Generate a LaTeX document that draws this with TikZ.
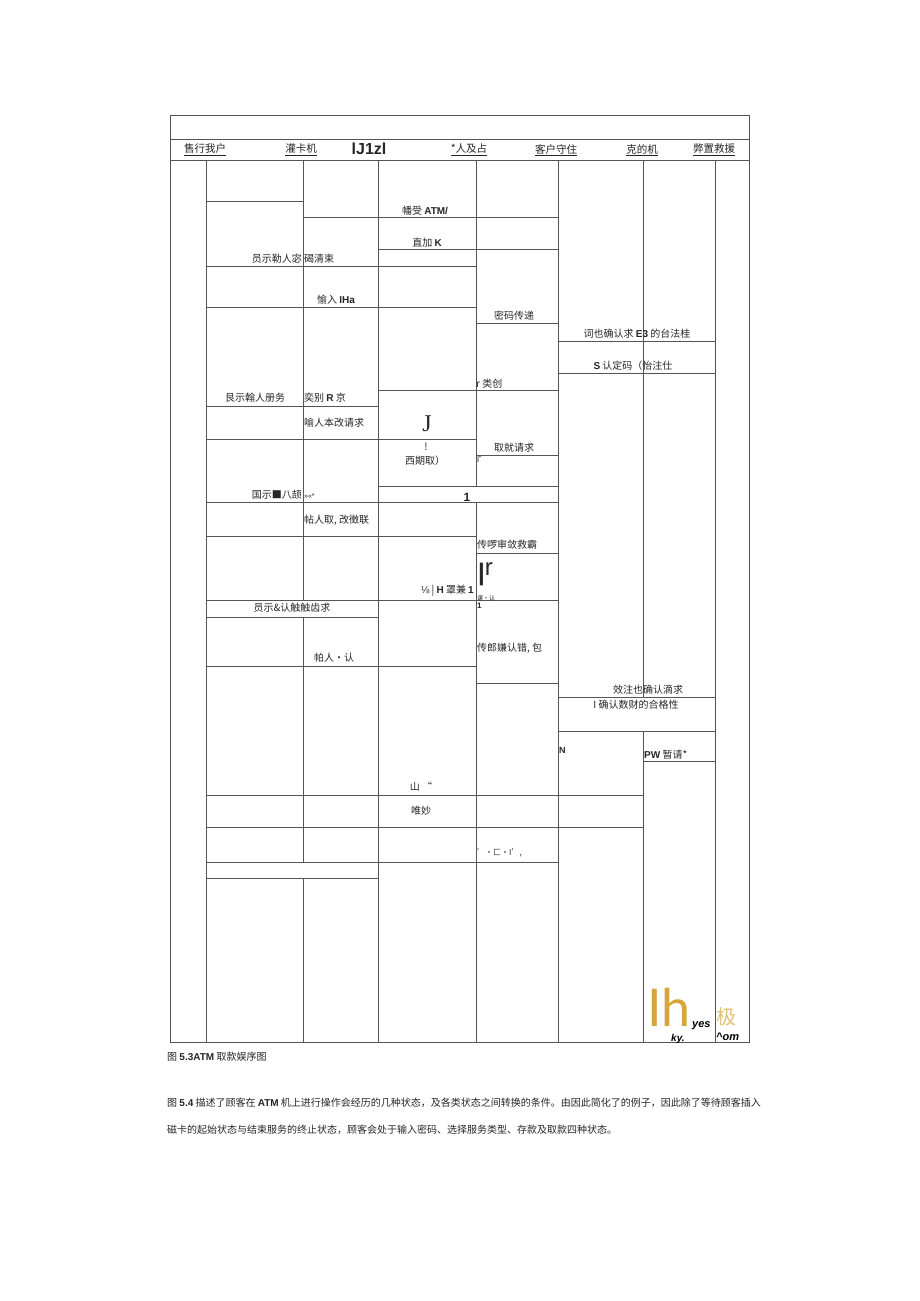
\documentclass[tikz,border=0pt]{standalone}
\usepackage{fontspec}
\setmainfont{Noto Sans CJK SC}
\newfontfamily\lat{Liberation Sans}
\newfontfamily\serif{Liberation Serif}
\newfontfamily\thin{Lato}
\usetikzlibrary{positioning}
\definecolor{rulegray}{RGB}{85,85,85}
\definecolor{gold}{RGB}{214,166,58}
\definecolor{palegold}{RGB}{224,192,122}
\tikzstyle{rule} = [draw=rulegray,line width=0.9pt]
\tikzstyle{cell} = [inner sep=0pt,text=black!85,font=\fontsize{10}{12}\selectfont]
\tikzstyle{head} = [cell,font=\fontsize{10.5}{12}\selectfont]
\tikzstyle{stamp} = [inner sep=0pt,font=\lat\bfseries\itshape\fontsize{11}{11}\selectfont]
\def \latb #1{{\lat\bfseries #1}}

\begin{document}
\begin{tikzpicture}[x=1pt,y=-1pt]
  \fill[white] (0,0) rectangle (920,1301);
  \useasboundingbox (0,0) rectangle (920,1301);
  % frame and header
  \draw[rule] (170,115) rectangle (749,1042);
  \draw[rule] (170,139) -- (749,139) (170,160) -- (749,160);
  % lifelines
  \draw[rule] (206,160) -- (206,1042)
              (303,160) -- (303,600) (303,617) -- (303,862) (303,878) -- (303,1042)
              (378,160) -- (378,1042)
              (476,160) -- (476,486) (476,503) -- (476,1042)
              (558,160) -- (558,1042)
              (643,160) -- (643,697) (643,731) -- (643,1042)
              (715,160) -- (715,1042);
  % message rows
  \draw[rule] (206,201) -- (303,201) (303,217) -- (558,217) (378,249) -- (558,249)
              (206,266) -- (476,266) (206,307) -- (476,307) (476,323) -- (558,323)
              (558,341) -- (715,341) (558,373) -- (715,373) (378,390) -- (558,390)
              (206,406) -- (378,406) (206,439) -- (476,439) (476,455) -- (558,455)
              (378,486) -- (558,486) (206,502) -- (558,502) (206,536) -- (476,536)
              (476,553) -- (558,553) (206,600) -- (558,600) (206,617) -- (378,617)
              (206,666) -- (476,666) (476,683) -- (558,683) (558,697) -- (715,697)
              (558,731) -- (715,731) (643,761) -- (715,761) (206,795) -- (643,795)
              (206,827) -- (643,827) (206,862) -- (558,862) (206,878) -- (378,878);

  \node[head] (bank) at (205,150) {\underline{售行我户}};
  \node[head] (reader) at (301,150) {\underline{灌卡机}};
  \node[head,font=\lat\bfseries\fontsize{16}{16}\selectfont] (atm) at (369,149) {lJ1zl};
  \node[head] (person) at (469,150) {\underline{*人及占}};
  \node[head] (cust) at (556,150) {\underline{客户守住}};
  \node[head] (mach) at (642,150) {\underline{克的机}};
  \node[head] (serv) at (714,150) {\underline{弊置救援}};

  \node[cell] (accept) at (425,211) {幡受 \latb{ATM/}};
  \node[cell] (addk) at (427,243) {直加 \latb{K}};
  \node[cell,anchor=east] (askpin) at (302,259) {员示勒人宓};
  \node[cell,anchor=west] (askpinb) at (304,259) {碣清束};
  \node[cell] (inpin) at (336,300) {愉入 \latb{IHa}};
  \node[cell] (passpin) at (514,316) {密码传递};
  \node[cell] (chkpin) at (637,334) {词也确认求 \latb{E3} 的台法桂};
  \node[cell] (okpin) at (633,366) {\latb{S} 认定码（怡注仕};
  \node[cell,anchor=west] (kind) at (476,384) {r 类创};
  \node[cell] (askkind) at (255,398) {艮示翰人册务};
  \node[cell,anchor=west] (selkind) at (304,398) {奕别 \latb{R} 京};
  \node[cell,anchor=west] (inreq) at (304,423) {喻人本改请求};
  \node[cell,font=\serif\fontsize{24}{24}\selectfont] (jj) at (427,424) {J};
  \node[cell] (bang) at (426,447) {!};
  \node[cell] (wd) at (425,461) {西期取）};
  \node[cell] (wdreq) at (514,448) {取就请求};
  \node[cell,anchor=west,font=\lat\fontsize{8}{8}\selectfont] (gam) at (477,460) {Γ};
  \node[cell,anchor=east] (askamt) at (302,495) {国示■八颉};
  \node[cell,anchor=west,font=\lat\fontsize{7}{7}\selectfont] (amt) at (304,496) {»«*};
  \node[cell,font=\lat\bfseries\fontsize{12}{12}\selectfont] (one) at (467,497) {1};
  \node[cell,anchor=west] (inamt) at (304,520) {帖人取, 改徵联};
  \node[cell,anchor=west] (trans) at (477,545) {传啰审敛救霸};
  \node[cell,anchor=east] (frac) at (474,591) {{\lat ⅛} | \latb{H} 罩兼 \latb{1}};
  \node[cell,anchor=west,font=\lat\fontsize{24}{24}\selectfont] (bar) at (478,574) {\textbf{|}\raisebox{5pt}{r}};
  \node[cell,anchor=west,font=\fontsize{6}{6}\selectfont] (tiny) at (477,598) {课•认};
  \node[cell,anchor=west,font=\lat\bfseries\fontsize{8}{8}\selectfont] (one2) at (477,606) {1};
  \node[cell] (askok) at (292,608) {员示\&认触触齿求};
  \node[cell,anchor=west] (err) at (477,648) {传郎嫌认错, 包};
  \node[cell] (inok) at (334,658) {帕人·认};
  \node[cell] (cfm) at (648,690) {效注也确认滴求};
  \node[cell] (valid) at (636,705) {I 确认数财的合格性};
  \node[cell,anchor=west,font=\lat\bfseries\fontsize{9}{9}\selectfont] (nn) at (559,750) {N};
  \node[cell,anchor=west] (pw) at (644,755) {\latb{PW} 暂请*};
  \node[cell] (mnt) at (421,787) {山 “};
  \node[cell] (done) at (421,811) {唯妙};
  \node[cell,anchor=west,font=\fontsize{8}{8}\selectfont] (sym) at (477,853) {'·匚·I',};
  % corner stamp
  \node[inner sep=0pt,anchor=base west,text depth=0pt,text=gold,font=\thin\fontsize{52}{52}\selectfont] (ih) at (647,1026) {Ih};
  \node[stamp,anchor=base west] (yes) at (692,1027) {yes};
  \node[stamp,anchor=base west,text height=7pt,font=\lat\bfseries\itshape\fontsize{10}{10}\selectfont] (ky) at (671,1041) {ky.};
  \node[inner sep=0pt,text=palegold,font=\fontsize{20}{20}\selectfont] (ji) at (726,1017) {极};
  \node[stamp,anchor=base west] (om) at (716,1040) {\^{}om};

  \node[cell,anchor=west] (cap) at (167,1057) {图 \latb{5.3ATM} 取款娱序图};
  \node[cell,anchor=west] (para1) at (167,1103) {图 \latb{5.4} 描述了顾客在 \latb{ATM} 机上进行操作会经历的几种状态，及各类状态之间转换的条件。由因此简化了的例子，因此除了等待顾客插入};
  \node[cell,anchor=west] (para2) at (167,1130) {磁卡的起始状态与结束服务的终止状态，顾客会处于输入密码、选择服务类型、存款及取款四种状态。};
\end{tikzpicture}
\end{document}
